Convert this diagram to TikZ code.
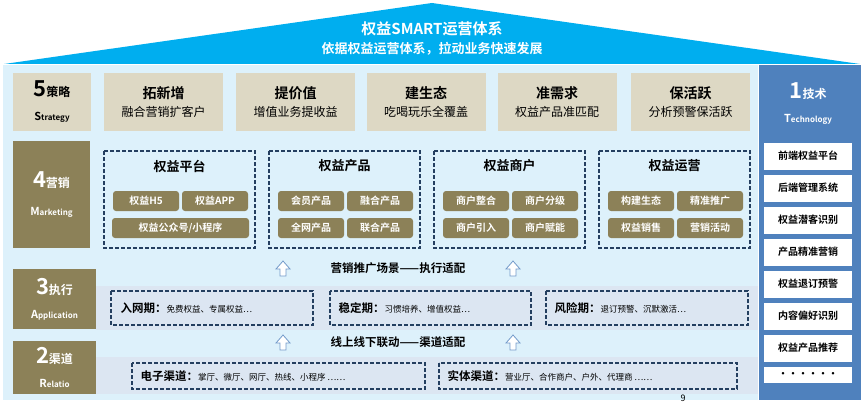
\documentclass[tikz,border=0pt]{standalone}
\usepackage{fontspec}
\setmainfont{Noto Sans CJK SC}
\newfontfamily\cjkb{Noto Sans CJK SC Bold}
\definecolor{roof}{HTML}{00AEEF}
\definecolor{body}{HTML}{DDF1FB}
\definecolor{beige}{HTML}{DDD8C4}
\definecolor{olive}{HTML}{8C8158}
\definecolor{band}{HTML}{DCE6F2}
\definecolor{navy}{HTML}{243F60}
\definecolor{tech}{HTML}{4F81BD}
\tikzset{
 stratbox/.style={fill=beige,draw=none,minimum width=119pt,minimum height=58pt,align=center,inner sep=0,font=\fontsize{12}{18}\selectfont},
 dbox/.style={draw=navy,dashed,line width=1.1pt,dash pattern=on 4pt off 2pt},
 pill/.style={fill=olive,rounded corners=3pt,text=white,font=\cjkb\fontsize{10}{11}\selectfont,minimum height=20pt,inner sep=0},
 lab/.style={fill=olive,text=white,align=center,inner sep=0,font=\fontsize{12}{24}\selectfont},
 techbox/.style={fill=white,minimum width=88pt,minimum height=27pt,inner sep=0,font=\cjkb\fontsize{10}{11}\selectfont},
 uparr/.style={draw=tech!80,fill=white,line width=0.8pt},
}
\newcommand{\upar}[2]{\draw[uparr] (#1-7,#2+1)--(#1-3,#2+1)--(#1-3,#2+8)--(#1+3,#2+8)--(#1+3,#2+1)--(#1+7,#2+1)--(#1,#2-7)--cycle;}
\begin{document}
\begin{tikzpicture}[x=1pt,y=-1pt]
\useasboundingbox (0,0) rectangle (864,404);
\fill[white] (0,0) rectangle (864,404);
% roof
\fill[roof] (4,64) -- (432,3) -- (860,64) -- cycle;
\node[text=white,font=\cjkb\fontsize{15}{16}\selectfont] (t1) at (432,29) {权益SMART运营体系};
\node[text=white,font=\cjkb\fontsize{13}{14}\selectfont] (t2) at (432,49) {依据权益运营体系，拉动业务快速发展};
% body
\fill[body] (3,65) rectangle (758,400);
\fill[tech] (759,65) rectangle (861,400);
% strategy
\node[stratbox,minimum width=78pt,font=\fontsize{12}{24}\selectfont] (s5) at (52,102) {\cjkb\fontsize{22}{22}\selectfont 5\fontsize{12}{12}\selectfont 策略\\\cjkb\fontsize{11}{11}\selectfont S\fontsize{8}{8}\selectfont trategy};
\foreach \x/\a/\b [count=\i] in {163.5/拓新增/融合营销扩客户,295.5/提价值/增值业务提收益,426/建生态/吃喝玩乐全覆盖,557/准需求/权益产品准匹配,690.5/保活跃/分析预警保活跃}
 \node[stratbox,minimum width=119pt] (sb\i) at (\x,102) {{\cjkb\fontsize{14}{15}\selectfont \a}\\{\fontsize{12}{13}\selectfont \b}};
% marketing
\node[lab,minimum width=77pt,minimum height=107pt,font=\fontsize{12}{28}\selectfont] (m4) at (51.5,194.5) {\cjkb\fontsize{22}{22}\selectfont 4\fontsize{12}{12}\selectfont 营销\\\cjkb\fontsize{11}{11}\selectfont M\fontsize{8}{8}\selectfont arketing};
\foreach \x/\t [count=\i] in {104/权益平台,269/权益产品,434/权益商户,599/权益运营}{
 \draw[dbox] (\x,151) rectangle (\x+151,248);
 \node[font=\cjkb\fontsize{13}{14}\selectfont] (mt\i) at (\x+75.5,166) {\t};
}
\node[pill,minimum width=66pt] (p1) at (146,201) {权益H5};
\node[pill,minimum width=66pt] (p2) at (215,201) {权益APP};
\node[pill,minimum width=137pt] (p3) at (180.5,228) {权益公众号/小程序};
\foreach \xx/\a/\b/\c/\d [count=\i] in {269/会员产品/融合产品/全网产品/联合产品,434/商户整合/商户分级/商户引入/商户赋能,599/构建生态/精准推广/权益销售/营销活动}{
 \node[pill,minimum width=66pt] (q\i a) at (\xx+42,201) {\a};
 \node[pill,minimum width=66pt] (q\i b) at (\xx+111,201) {\b};
 \node[pill,minimum width=66pt] (q\i c) at (\xx+42,228) {\c};
 \node[pill,minimum width=66pt] (q\i d) at (\xx+111,228) {\d};
}
% execution
\node[font=\cjkb\fontsize{11.5}{12}\selectfont] (e0) at (398,268) {营销推广场景——执行适配};
\upar{283}{268}\upar{513}{268}
\fill[band] (96,286) rectangle (758,330);
\node[lab,minimum width=83pt,minimum height=60pt] (e3) at (54.5,299) {\cjkb\fontsize{22}{22}\selectfont 3\fontsize{12}{12}\selectfont 执行\\\cjkb\fontsize{11}{11}\selectfont A\fontsize{8}{8}\selectfont pplication};
\draw[dbox] (111,291) rectangle (313,325);
\draw[dbox] (330,291) rectangle (531,325);
\draw[dbox] (546,291) rectangle (748,325);
\node[anchor=west] (x1) at (117,308) {{\cjkb\fontsize{11.5}{12}\selectfont 入网期：}{\fontsize{8.5}{9}\selectfont 免费权益、专属权益…}};
\node[anchor=west] (x2) at (335,308) {{\cjkb\fontsize{11.5}{12}\selectfont 稳定期：}{\fontsize{8.5}{9}\selectfont 习惯培养、增值权益…}};
\node[anchor=west] (x3) at (551,308) {{\cjkb\fontsize{11.5}{12}\selectfont 风险期：}{\fontsize{8.5}{9}\selectfont 退订预警、沉默激活…}};
% channel
\node[font=\cjkb\fontsize{11.5}{12}\selectfont] (c0) at (398,342) {线上线下联动——渠道适配};
\upar{283}{342}\upar{513}{342}
\fill[band] (96,357) rectangle (758,394);
\node[lab,minimum width=83pt,minimum height=53pt] (c2) at (54.5,367.5) {\cjkb\fontsize{22}{22}\selectfont 2\fontsize{12}{12}\selectfont 渠道\\\cjkb\fontsize{11}{11}\selectfont R\fontsize{8}{8}\selectfont elatio};
\draw[dbox] (132,363) rectangle (425,389);
\draw[dbox] (439,363) rectangle (737,389);
\node[anchor=west] (y1) at (137,376) {{\cjkb\fontsize{11.5}{12}\selectfont 电子渠道：}{\fontsize{8.5}{9}\selectfont 掌厅、微厅、网厅、热线、小程序 ……}};
\node[anchor=west] (y2) at (444,376) {{\cjkb\fontsize{11.5}{12}\selectfont 实体渠道：}{\fontsize{8.5}{9}\selectfont 营业厅、合作商户、户外、代理商 ……}};
\node[font=\fontsize{9}{9}\selectfont] (pg) at (683,398) {9};
% tech
\node[text=white,align=center,font=\fontsize{12}{24}\selectfont] (k1) at (808,104) {\cjkb\fontsize{22}{22}\selectfont 1\fontsize{12}{12}\selectfont 技术\\\cjkb\fontsize{11}{11}\selectfont T\fontsize{8}{8}\selectfont echnology};
\foreach \t [count=\i] in {前端权益平台,后端管理系统,权益潜客识别,产品精准营销,权益退订预警,内容偏好识别,权益产品推荐}
 \node[techbox] (k\i b) at (808,156+32*\i-32) {\t};
\node[techbox,minimum height=16pt] (k8b) at (808,375) {••••••};
\end{tikzpicture}
\end{document}
